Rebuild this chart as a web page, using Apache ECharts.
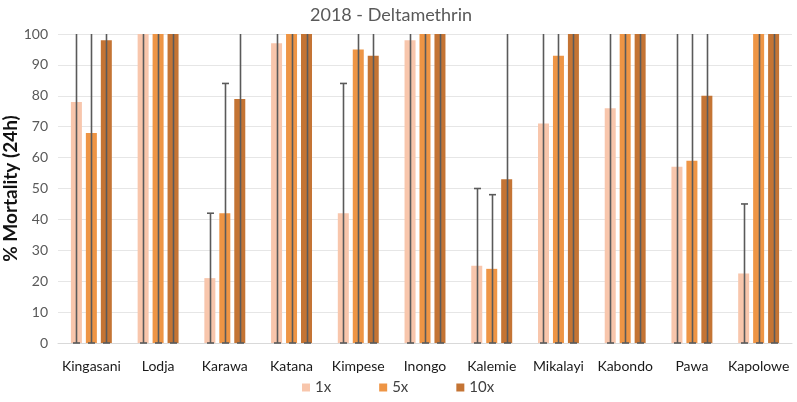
<!DOCTYPE html>
<html>
<head>
<meta charset="utf-8">
<script src="https://cdn.jsdelivr.net/npm/echarts@6/dist/echarts.min.js"></script>
<style>html,body{margin:0;padding:0;background:#fff}#c{width:797px;height:402px}</style>
</head>
<body>
<div id="c"></div>
<script>
const categories = ['Kingasani','Lodja','Karawa','Katana','Kimpese','Inongo','Kalemie','Mikalayi','Kabondo','Pawa','Kapolowe'];
const seriesNames = ['1x','5x','10x'];
const values1x  = [78, 100, 21, 97, 42, 98, 25, 71, 76, 57, 22.5];
const values5x  = [68, 100, 42, 100, 95, 100, 24, 93, 100, 59, 100];
const values10x = [98, 100, 79, 100, 93, 100, 53, 100, 100, 80, 100];
// error bar ranges (upper ends at 100 are clipped by the axis)
const errLow1x  = [0,0,0,0,0,0,0,0,0,0,0];
const errHigh1x = [100, 100, 42, 100, 84, 100, 50, 100, 100, 100, 45];
const errLow5x  = [0,0,0,0,0,0,0,0,0,0,0];
const errHigh5x = [100, 100, 84, 100, 100, 100, 48, 100, 100, 100, 100];
const errLow10x  = [0,0,0,0,0,0,0,0,0,0,0];
const errHigh10x = [100, 100, 100, 100, 100, 100, 100, 100, 100, 100, 100];
const yTicks = [0,10,20,30,40,50,60,70,80,90,100];

const colors = ['#F8C6AC', '#EE9545', '#C47434'];
const barW = 11, step = 15;
const font = 'Lato, "Open Sans", sans-serif';

function errSeries(name, lows, highs, offset) {
  return {
    type: 'custom', name: name + ' err', z: 10, silent: true,
    data: categories.map((c, i) => [i, lows[i], highs[i]]),
    renderItem: function (params, api) {
      const i = api.value(0);
      const p0 = api.coord([i, api.value(1)]);
      const p1 = api.coord([i, api.value(2)]);
      const cx = Math.round(p0[0] + offset) + 0.5;
      const style = { stroke: '#5a5a5a', lineWidth: 1.6 };
      const children = [
        { type: 'line', shape: { x1: cx, y1: p0[1], x2: cx, y2: p1[1] }, style },
        { type: 'line', shape: { x1: cx - 3.5, y1: p0[1], x2: cx + 3.5, y2: p0[1] }, style }
      ];
      if (api.value(2) < 100) {
        children.push({ type: 'line', shape: { x1: cx - 3.5, y1: p1[1], x2: cx + 3.5, y2: p1[1] }, style });
      }
      return { type: 'group', children };
    }
  };
}

const chart = echarts.init(document.getElementById('c'), null, { renderer: 'canvas' });
chart.setOption({
  animation: false,
  title: { text: '2018 - Deltamethrin', left: 305, top: 1,
    textStyle: { fontFamily: font, fontSize: 18, fontWeight: 'normal', color: '#595959' } },
  legend: { data: seriesNames, bottom: 2, left: 297, itemWidth: 8, itemHeight: 8, itemGap: 48,
    icon: 'rect', textStyle: { fontFamily: font, fontSize: 15, color: '#404040' } },
  grid: { left: 58, right: 5, top: 34, bottom: 59, containLabel: false, outerBoundsMode: 'none' },
  xAxis: { type: 'category', data: categories,
    axisLine: { lineStyle: { color: '#d9d9d9' } }, axisTick: { show: false },
    axisLabel: { fontFamily: font, fontSize: 14, color: '#1a1a1a', margin: 16, interval: 0 } },
  yAxis: { type: 'value', min: 0, max: 100, interval: 10,
    name: '% Mortality (24h)', nameLocation: 'middle', nameGap: 38, nameMoveOverlap: false,
    nameTextStyle: { fontFamily: font, fontSize: 19, fontWeight: 'bold', color: '#111' },
    axisLabel: { fontFamily: font, fontSize: 14, color: '#595959', margin: 10,
      formatter: v => yTicks.includes(v) ? String(v) : '' },
    splitLine: { lineStyle: { color: '#e6e6e6' } } },
  series: [
    { type: 'bar', name: '1x', data: values1x, barWidth: barW, barGap: '36%', itemStyle: { color: colors[0] } },
    { type: 'bar', name: '5x', data: values5x, barWidth: barW, barGap: '36%', itemStyle: { color: colors[1] } },
    { type: 'bar', name: '10x', data: values10x, barWidth: barW, barGap: '36%', itemStyle: { color: colors[2] } },
    errSeries('1x', errLow1x, errHigh1x, -step),
    errSeries('5x', errLow5x, errHigh5x, 0),
    errSeries('10x', errLow10x, errHigh10x, step)
  ]
});
</script>
</body>
</html>
